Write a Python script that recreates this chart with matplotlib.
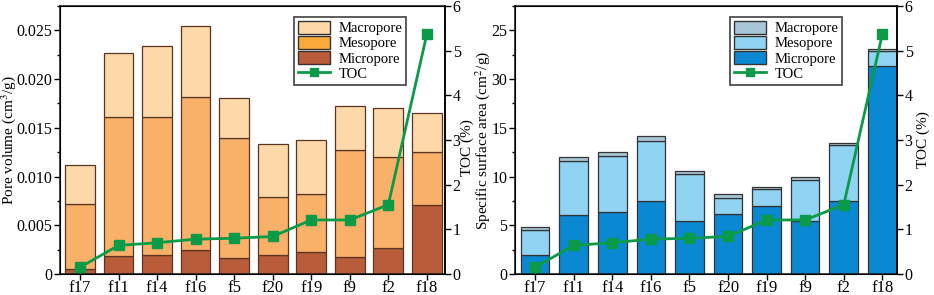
import matplotlib
matplotlib.use("Agg")
import matplotlib.pyplot as plt
import numpy as np
from matplotlib.patches import Patch
from matplotlib.lines import Line2D
from matplotlib.ticker import AutoMinorLocator

plt.rcParams['font.family'] = ['Liberation Serif', 'DejaVu Serif']
plt.rcParams['mathtext.fontset'] = 'stix'

samples = ['f17', 'f11', 'f14', 'f16', 'f5', 'f20', 'f19', 'f9', 'f2', 'f18']
toc = [0.15, 0.64, 0.70, 0.78, 0.80, 0.84, 1.21, 1.21, 1.55, 5.37]

# pore volume (cm3/g), cumulative tops
pv_micro = [0.00055, 0.0018, 0.0019, 0.00246, 0.00164, 0.0019, 0.00225, 0.00178, 0.00263, 0.0071]
pv_meso_top = [0.0072, 0.0161, 0.0161, 0.01817, 0.01393, 0.00789, 0.0082, 0.01274, 0.01199, 0.01247]
pv_total = [0.01114, 0.0227, 0.02336, 0.02548, 0.01807, 0.01332, 0.01376, 0.01721, 0.01708, 0.01657]

# specific surface area, cumulative tops
sa_micro = [1.95, 6.02, 6.33, 7.53, 5.44, 6.19, 6.97, 5.44, 7.53, 21.33]
sa_meso_top = [4.55, 11.63, 12.14, 13.68, 10.3, 7.84, 8.72, 9.64, 13.27, 22.91]
sa_total = [4.79, 12.0, 12.55, 14.12, 10.56, 8.17, 8.96, 9.92, 13.44, 23.08]
sa_ticklabels = ['0', '5', '10', '15', '30', '25']

green = '#0a9a48'


def panel(ax, micro, meso_top, total, colors, legcolors, edge, width, xlim, ylim, ylabel, legpos):
    x = np.arange(len(samples))
    micro = np.array(micro)
    meso = np.array(meso_top) - micro
    macro = np.array(total) - np.array(meso_top)
    ax.bar(x, micro, width, color=colors[0], edgecolor=edge, linewidth=0.9)
    ax.bar(x, meso, width, bottom=micro, color=colors[1], edgecolor=edge, linewidth=0.9)
    ax.bar(x, macro, width, bottom=micro + meso, color=colors[2], edgecolor=edge, linewidth=0.9)
    ax.set_xlim(*xlim)
    ax.set_ylim(*ylim)
    ax.set_xticks(x)
    ax.set_xticklabels(samples)
    ax.set_ylabel(ylabel, fontsize=11)
    ax.yaxis.set_minor_locator(AutoMinorLocator(2))
    ax.tick_params(axis='both', which='major', direction='out', length=4, width=1, labelsize=11.5, pad=1.5)
    ax.tick_params(axis='x', labelsize=12, pad=0.5)
    ax.tick_params(axis='y', which='minor', direction='out', length=2.5, width=1)
    for s in ax.spines.values():
        s.set_linewidth(1.2)
        s.set_color('#222222')

    ax2 = ax.twinx()
    ax2.plot(x, toc, color=green, lw=2, marker='s', ms=7, zorder=5)
    ax2.set_ylim(0, 6)
    ax2.set_yticks(range(7))
    ax2.tick_params(axis='y', direction='out', length=4, width=1, labelsize=11.5, pad=1.5)
    ax2.spines['right'].set_linewidth(1.2)

    handles = [Patch(facecolor=legcolors[2], edgecolor='#333333'),
               Patch(facecolor=legcolors[1], edgecolor='#333333'),
               Patch(facecolor=legcolors[0], edgecolor='#333333'),
               Line2D([0], [0], color=green, lw=2, marker='s', ms=6)]
    leg = ax2.legend(handles, ['Macropore', 'Mesopore', 'Micropore', 'TOC'],
                     loc='upper right', bbox_to_anchor=legpos, fontsize=10.5,
                     frameon=True, fancybox=False, borderpad=0.25, labelspacing=0.05,
                     handlelength=2.2, handleheight=1.0, handletextpad=0.6, borderaxespad=0)
    leg.get_frame().set_edgecolor('#222222')
    leg.get_frame().set_linewidth(1.3)
    return ax2


fig = plt.figure(figsize=(9.34, 2.95), dpi=100)
axl = fig.add_axes([0.0642, 0.0712, 0.4122, 0.9085])
axr = fig.add_axes([0.5514, 0.0712, 0.409, 0.9085])

panel(axl, pv_micro, pv_meso_top, pv_total,
      ['#b95c3a', '#f9b068', '#fdd8a8'], ['#b95c3a', '#fba93a', '#fdd8a8'], '#5a3524', 0.77,
      (-0.52, 9.47), (0, 0.0275), 'Pore volume (cm$^3$/g)', (0.899, 0.959))
axl.set_yticks([0, 0.005, 0.010, 0.015, 0.020, 0.025])
axl.set_yticklabels(['0', '0.005', '0.010', '0.015', '0.020', '0.025'])
axl.yaxis.set_label_coords(-0.108, 0.5)

axr2 = panel(axr, sa_micro, sa_meso_top, sa_total,
             ['#0a88d2', '#90d3f2', '#a9c6d6'], ['#0a88d2', '#90d3f2', '#a9c6d6'], '#333333', 0.74,
             (-0.52, 9.38), (0, 27.5), 'Specific surface area (cm$^2$/g)', (0.856, 0.959))
axr.set_yticks([0, 5, 10, 15, 20, 25])
axr.set_yticklabels(sa_ticklabels)
axr.yaxis.set_label_coords(-0.061, 0.5)
axr2.set_ylabel('TOC (%)', fontsize=11, labelpad=3)

# left panel's TOC label sits in the gap between the panels
fig.text(0.5005, 0.50, 'TOC (%)', rotation=90, fontsize=11, ha='center', va='center')

fig.savefig('out.png', dpi=100)
